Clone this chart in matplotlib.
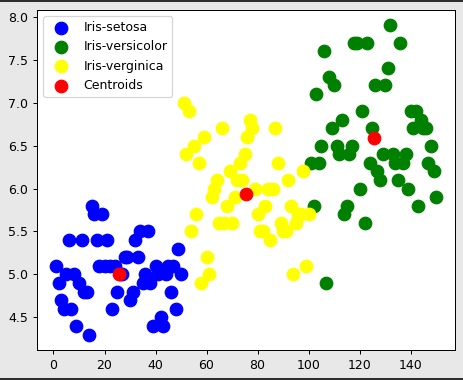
import matplotlib
matplotlib.use('Agg')
import matplotlib.pyplot as plt
from matplotlib.lines import Line2D
import numpy as np

# Sepal length, by species (in dataset order, Id 1..150)
setosa = [5.1, 4.9, 4.7, 4.6, 5.0, 5.4, 4.6, 5.0, 4.4, 4.9, 5.4, 4.8, 4.8, 4.3, 5.8,
          5.7, 5.4, 5.1, 5.7, 5.1, 5.4, 5.1, 4.6, 5.1, 4.8, 5.0, 5.0, 5.2, 5.2, 4.7,
          4.8, 5.4, 5.2, 5.5, 4.9, 5.0, 5.5, 4.9, 4.4, 5.1, 5.0, 4.5, 4.4, 5.0, 5.1,
          4.8, 5.1, 4.6, 5.3, 5.0]
versicolor = [7.0, 6.4, 6.9, 5.5, 6.5, 5.7, 6.3, 4.9, 6.6, 5.2, 5.0, 5.9, 6.0, 6.1, 5.6,
              6.7, 5.6, 5.8, 6.2, 5.6, 5.9, 6.1, 6.3, 6.1, 6.4, 6.6, 6.8, 6.7, 6.0, 5.7,
              5.5, 5.5, 5.8, 6.0, 5.4, 6.0, 6.7, 6.3, 5.6, 5.5, 5.5, 6.1, 5.8, 5.0, 5.6,
              5.7, 5.7, 6.2, 5.1, 5.7]
virginica = [6.3, 5.8, 7.1, 6.3, 6.5, 7.6, 4.9, 7.3, 6.7, 7.2, 6.5, 6.4, 6.8, 5.7, 5.8,
             6.4, 6.5, 7.7, 7.7, 6.0, 6.9, 5.6, 7.7, 6.3, 6.7, 7.2, 6.2, 6.1, 6.4, 7.2,
             7.4, 7.9, 6.4, 6.3, 6.1, 7.7, 6.3, 6.4, 6.0, 6.9, 6.7, 6.9, 5.8, 6.8, 6.7,
             6.7, 6.3, 6.5, 6.2, 5.9]

x_set = np.arange(1, 51)
x_vir = np.arange(51, 101)   # plotted yellow, labelled verginica
x_ver = np.arange(101, 151)  # plotted green, labelled versicolor

centroids_x = [25.5, 75.5, 125.5]
centroids_y = [5.006, 5.936, 6.588]

dpi = 90
fig = plt.figure(figsize=(463 / dpi, 380 / dpi), dpi=dpi, facecolor='#e8e8e8')
ax = fig.add_axes([0.080, 0.079, 0.903, 0.895])

ax.scatter(x_set, setosa, s=100, c='blue', label='Iris-setosa')
ax.scatter(x_ver, virginica, s=100, c='green', label='Iris-versicolor')
ax.scatter(x_vir, versicolor, s=100, c='yellow', label='Iris-verginica')
ax.scatter(centroids_x, centroids_y, s=100, c='red', label='Centroids')
ax.legend(loc='upper left')

# frame lines at top and bottom of the output cell
fig.add_artist(Line2D([0, 1], [0.997, 0.997], color='#222222', lw=1.5))
fig.add_artist(Line2D([0, 1], [0.003, 0.003], color='#222222', lw=1.5))

fig.savefig('out.png', dpi=dpi, facecolor=fig.get_facecolor())
